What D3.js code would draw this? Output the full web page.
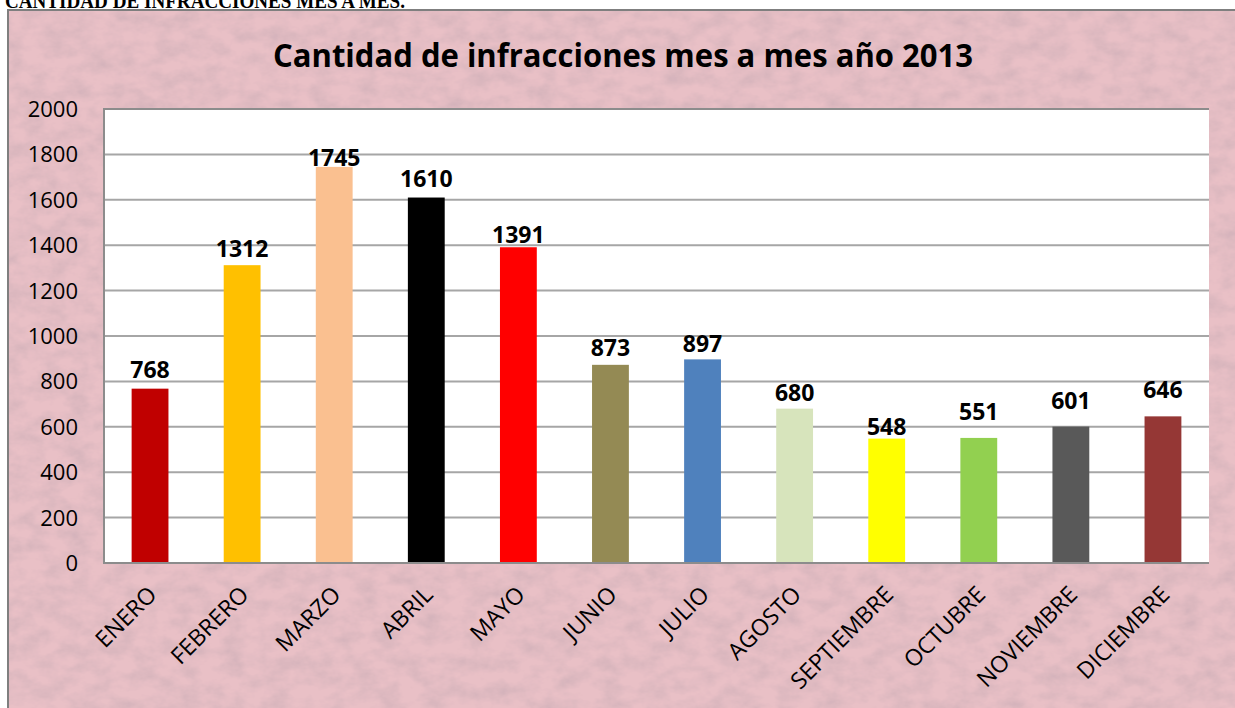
<!DOCTYPE html>
<html>
<head>
<meta charset="utf-8">
<script src="https://cdn.jsdelivr.net/npm/d3@7"></script>
<style>
  html, body { margin: 0; padding: 0; background: #fff; }
  svg { display: block; }
</style>
</head>
<body>
<svg id="chart" width="1235" height="708"></svg>
<script>
const months = ["ENERO", "FEBRERO", "MARZO", "ABRIL", "MAYO", "JUNIO", "JULIO",
  "AGOSTO", "SEPTIEMBRE", "OCTUBRE", "NOVIEMBRE", "DICIEMBRE"];
const counts = [768, 1312, 1745, 1610, 1391, 873, 897, 680, 548, 551, 601, 646];
const barColors = ["#c00000", "#ffc000", "#fac090", "#000000", "#ff0000", "#948a54",
  "#4f81bd", "#d7e4bc", "#ffff00", "#92d050", "#595959", "#953735"];
const yTicks = [0, 200, 400, 600, 800, 1000, 1200, 1400, 1600, 1800, 2000];
// gap between bar top and label baseline, as placed by hand in the original
const labelLift = [11, 8, 1, 11, 4, 9, 7, 8, 4, 18, 18, 18];

const svg = d3.select("#chart");
const plot = { left: 104, top: 109, right: 1209, bottom: 563 };

// textured pink backdrop
const defs = svg.append("defs");
const filt = defs.append("filter").attr("id", "paper")
  .attr("x", 0).attr("y", 0).attr("width", 1).attr("height", 1);
filt.append("feTurbulence").attr("type", "fractalNoise")
  .attr("baseFrequency", "0.045 0.07").attr("numOctaves", 4).attr("seed", 7)
  .attr("result", "noise");
filt.append("feColorMatrix").attr("in", "noise").attr("type", "matrix")
  .attr("values", "0 0 0 0 0.60  0 0 0 0 0.42  0 0 0 0 0.47  0 0 0 1.2 -0.4")
  .attr("result", "tint");
filt.append("feComposite").attr("in", "tint").attr("in2", "SourceGraphic")
  .attr("operator", "over");

svg.append("rect")
  .attr("x", 8).attr("y", 10).attr("width", 1235).attr("height", 708)
  .attr("fill", "#e9c0c6").attr("filter", "url(#paper)");
svg.append("path")
  .attr("d", "M 8 718 V 10 H 1240")
  .attr("fill", "none").attr("stroke", "#7f7f7f").attr("stroke-width", 2);

// document heading above the chart, cut by the page edge as in the original
svg.append("text")
  .attr("x", 5).attr("y", 8)
  .attr("textLength", 400).attr("lengthAdjust", "spacingAndGlyphs")
  .style("font-family", "'Liberation Serif', 'DejaVu Serif', serif")
  .style("font-weight", "bold").style("font-size", "21px")
  .text("CANTIDAD DE INFRACCIONES MES A MES.");

const x = d3.scaleBand()
  .domain(months)
  .range([plot.left, plot.right])
  .paddingInner(0.6).paddingOuter(0.3);
const y = d3.scaleLinear().domain([0, 2000]).range([plot.bottom, plot.top]);

svg.append("rect")
  .attr("x", plot.left).attr("y", plot.top)
  .attr("width", plot.right - plot.left).attr("height", plot.bottom - plot.top)
  .attr("fill", "#fff");

svg.append("g").selectAll("line")
  .data(yTicks.filter((d) => d > 0 && d < 2000))
  .join("line")
  .attr("x1", plot.left).attr("x2", plot.right)
  .attr("y1", (d) => y(d)).attr("y2", (d) => y(d))
  .attr("stroke", "#a6a6a6").attr("stroke-width", 2);

svg.append("g").selectAll("rect")
  .data(counts)
  .join("rect")
  .attr("x", (d, i) => x(months[i]))
  .attr("width", x.bandwidth())
  .attr("y", (d) => y(d))
  .attr("height", (d) => y(0) - y(d))
  .attr("fill", (d, i) => barColors[i]);

svg.append("path")
  .attr("d", `M ${plot.right} ${plot.top} H ${plot.left} V ${plot.bottom} H ${plot.right}`)
  .attr("fill", "none").attr("stroke", "#8c8c8c").attr("stroke-width", 2);

const font = "'Open Sans', 'Noto Sans', sans-serif";

svg.append("g").selectAll("text")
  .data(yTicks)
  .join("text")
  .attr("x", 78).attr("y", (d) => y(d))
  .attr("dy", "0.36em")
  .attr("text-anchor", "end")
  .style("font-family", font).style("font-size", "22px")
  .attr("fill", "#000")
  .text((d) => d);

svg.append("g").selectAll("text")
  .data(counts)
  .join("text")
  .attr("x", (d, i) => x(months[i]) + x.bandwidth() / 2)
  .attr("y", (d, i) => y(d) - labelLift[i])
  .attr("text-anchor", "middle")
  .style("font-family", font).style("font-weight", "bold").style("font-size", "23px")
  .attr("fill", "#000")
  .text((d) => d);

svg.append("g").selectAll("text")
  .data(months)
  .join("text")
  .attr("transform", (d) => `translate(${x(d) + x.bandwidth() / 2 + 8},${plot.bottom + 33}) rotate(-45)`)
  .attr("text-anchor", "end")
  .style("font-family", font).style("font-size", "23px")
  .attr("fill", "#000")
  .text((d) => d);

svg.append("text")
  .attr("x", 623).attr("y", 67)
  .attr("text-anchor", "middle")
  .attr("textLength", 700).attr("lengthAdjust", "spacingAndGlyphs")
  .style("font-family", font).style("font-weight", "bold").style("font-size", "32px")
  .attr("fill", "#000")
  .text("Cantidad de infracciones mes a mes año 2013");
</script>
</body>
</html>
